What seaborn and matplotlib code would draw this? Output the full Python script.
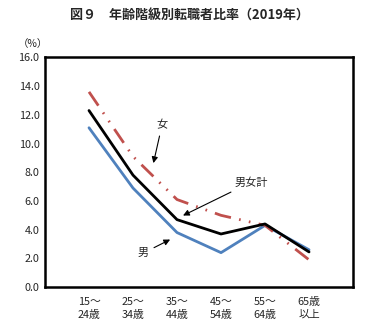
import matplotlib
matplotlib.use("Agg")
import matplotlib.pyplot as plt
import seaborn as sns
import pandas as pd

categories = ["15～\n24歳", "25～\n34歳", "35～\n44歳", "45～\n54歳", "55～\n64歳", "65歳\n以上"]
total = [12.3, 7.8, 4.7, 3.7, 4.4, 2.45]
male = [11.1, 6.9, 3.8, 2.4, 4.3, 2.6]
female = [13.6, 9.1, 6.1, 5.0, 4.3, 1.9]
yticks = [0, 2, 4, 6, 8, 10, 12, 14, 16]

sns.set_theme(style="white")
plt.rcParams['font.family'] = ['Noto Sans CJK JP', 'DejaVu Sans']

fig = plt.figure(figsize=(3.78, 3.30), dpi=100)
ax = fig.add_axes([0.119, 0.130, 0.815, 0.696])

x = list(range(len(categories)))
df = pd.DataFrame({"x": x, "total": total, "male": male, "female": female})

sns.lineplot(data=df, x="x", y="male", ax=ax, color="#4F81BD", linewidth=2.0)
sns.lineplot(data=df, x="x", y="female", ax=ax, color="#C0504D", linewidth=2.0)
ax.lines[-1].set_dashes([6, 3, 0.6, 3, 0.6, 3])
sns.lineplot(data=df, x="x", y="total", ax=ax, color="black", linewidth=2.0)

ax.set_xlim(-1, 6)
ax.set_ylim(0, 16)
ax.set_xticks(x)
ax.set_xticklabels(categories, fontsize=7.8, linespacing=1.35)
ax.set_yticks(yticks)
ax.set_yticklabels([f"{v:.1f}" for v in yticks], fontsize=7.8)
ax.set_xlabel("")
ax.set_ylabel("")
ax.tick_params(direction="in", length=3, width=1, color="black", pad=4)
ax.tick_params(axis="x", pad=7)
for s in ax.spines.values():
    s.set_color("black")
    s.set_linewidth(1.8)

fig.text(0.5, 0.952, "図９　年齢階級別転職者比率（2019年）", ha="center", va="center",
         fontsize=9.4, fontweight="bold")
fig.text(0.088, 0.868, "（%）", ha="center", va="center", fontsize=7.5)

arrowprops = dict(arrowstyle="-|>", color="black", lw=0.8, mutation_scale=9)
# 女
ax.annotate("女", xy=(1.45, 8.45), xytext=(1.66, 11.3), fontsize=8,
            ha="center", va="center", arrowprops=arrowprops)
# 男女計
ax.annotate("男女計", xy=(2.08, 4.9), xytext=(3.68, 7.3), fontsize=8,
            ha="center", va="center", arrowprops=arrowprops)
# 男
ax.annotate("男", xy=(1.9, 3.4), xytext=(1.22, 2.35), fontsize=8,
            ha="center", va="center", arrowprops=arrowprops)

fig.savefig("out.png", dpi=100)
